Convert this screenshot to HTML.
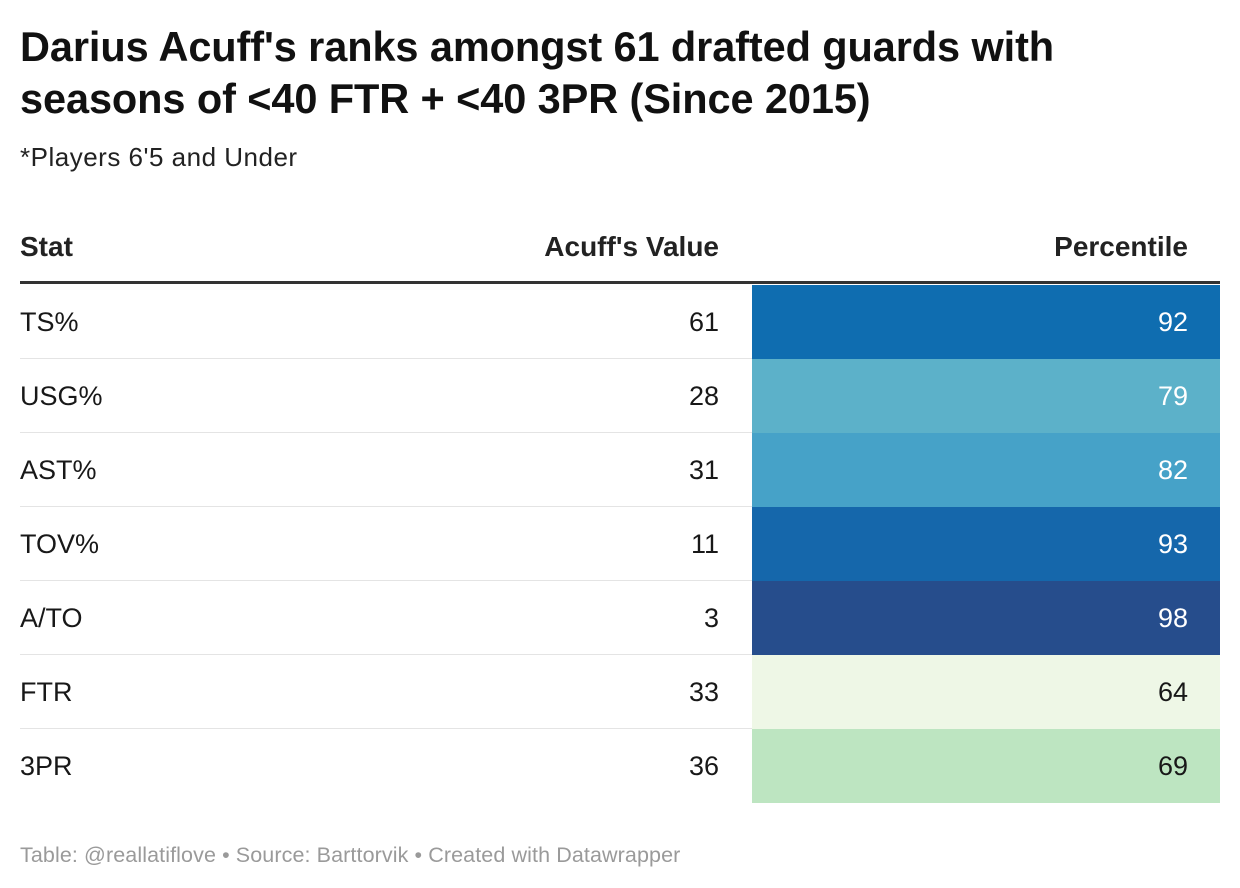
<!DOCTYPE html>
<html><head><meta charset="utf-8">
<style>
body{margin:0;width:1240px;height:888px;background:#fff;font-family:"Liberation Sans",Arial,sans-serif;color:#181818;position:relative;overflow:hidden}
.abs{position:absolute}
#title{left:20px;top:21px;font-size:41.5px;font-weight:bold;line-height:52px;letter-spacing:-0.1px;color:#111;white-space:nowrap}
#sub{left:20px;top:142px;font-size:26px;letter-spacing:0.5px;color:#222}
.hdr{top:231px;font-size:28px;font-weight:bold;color:#222}
#rule{left:20px;top:281px;width:1200px;height:3px;background:#333}
.row{position:absolute;left:20px;width:1200px;height:73px;border-bottom:1px solid #e4e4e4;font-size:27px}
.row span{position:absolute;top:22px}
.cell{position:absolute;left:732px;width:468px;top:0;height:74px}
#foot{left:20px;top:843px;font-size:21.5px;letter-spacing:0.1px;color:#9a9a9a}
</style></head><body>
<div id="title" class="abs">Darius Acuff's ranks amongst 61 drafted guards with<br>seasons of &lt;40 FTR + &lt;40 3PR (Since 2015)</div>
<div id="sub" class="abs">*Players 6'5 and Under</div>
<div class="abs hdr" style="left:20px">Stat</div>
<div class="abs hdr" style="right:521px">Acuff's Value</div>
<div class="abs hdr" style="right:52px">Percentile</div>
<div id="rule" class="abs"></div>
<div id="rows"></div>
<div id="foot" class="abs">Table: @reallatiflove • Source: Barttorvik • Created with Datawrapper</div>
<script>
const stats=["TS%","USG%","AST%","TOV%","A/TO","FTR","3PR"];
const values=[61,28,31,11,3,33,36];
const percentiles=[92,79,82,93,98,64,69];
function color(p){
  if(p>=97)return "#264d8c";
  if(p>=93)return "#1567ab";
  if(p>=90)return "#0f6db0";
  if(p>=81)return "#46a2c8";
  if(p>=75)return "#5cb1c9";
  if(p>=67)return "#bde5c1";
  return "#eef7e6";
}
const body=document.getElementById('rows');
stats.forEach((s,i)=>{
  const r=document.createElement('div');
  r.className='row';
  r.style.top=(285+i*74)+'px';
  if(i===stats.length-1)r.style.borderBottom='none';
  
  
  const c=document.createElement('div');
  c.className='cell';
  c.style.background=color(percentiles[i]);
  
  
  r.appendChild(c);
  const a=document.createElement('span');
  a.style.left='0';a.textContent=s;
  
  
  r.appendChild(a);
  const b=document.createElement('span');
  b.style.right='501px';b.textContent=values[i];
  
  
  r.appendChild(b);
  const d=document.createElement('span');
  d.style.right='32px';d.textContent=percentiles[i];
  d.style.color=percentiles[i]>=75?'#fff':'#181818';
  
  
  r.appendChild(d);
  body.appendChild(r);
});
</script>
</body></html>
